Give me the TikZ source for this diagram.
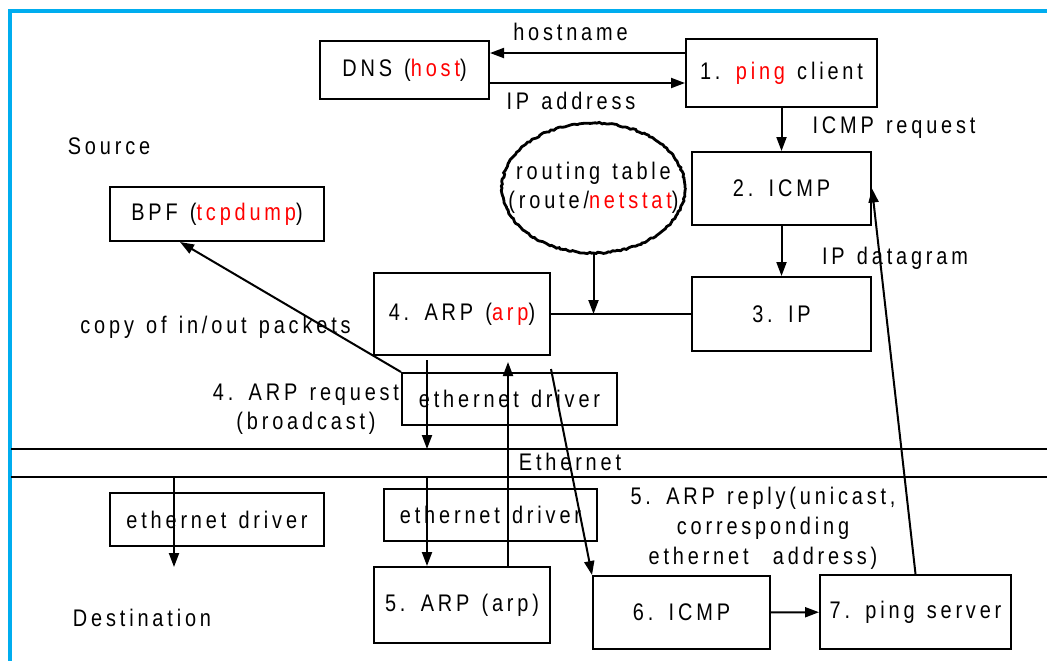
\documentclass[tikz,border=0pt]{standalone}
\usepackage{fontspec}
\newfontfamily\diagfont[FakeStretch=0.83,LetterSpace=16,WordSpace=1.3]{Liberation Sans}
\usetikzlibrary{arrows.meta,shapes.geometric,decorations.pathmorphing}
\begin{document}
\begin{tikzpicture}[x=0.5pt,y=-0.5pt,
   every node/.style={font=\diagfont\fontsize{12}{14.5}\selectfont, inner sep=0pt},
   box/.style={draw, line width=1pt},
   oval/.style={draw, ellipse, line width=1.4pt, decorate,
      decoration={random steps, segment length=1.2pt, amplitude=0.4pt}},
   flow/.style={line width=1pt, -{Triangle[length=7pt,width=5pt]}},
   wire/.style={line width=1pt}]

\useasboundingbox (0,0) rectangle (1047,661);
\draw[cyan, line width=1.8pt] (1047,11) -- (10,11) -- (10,661);

% source host
\node[box, minimum width=84.5pt, minimum height=29pt] (dns) at (404.5,70) {DNS (\textcolor{red}{host})};
\node[box, minimum width=95.5pt, minimum height=34pt] (client) at (781.5,73) {1. \textcolor{red}{ping} client};
\node[box, minimum width=89.5pt, minimum height=36.5pt] (icmp) at (781.5,188.5) {2. ICMP};
\node[box, minimum width=89.5pt, minimum height=37pt] (ip) at (781.5,314) {3. IP};
\node[box, minimum width=88pt, minimum height=41pt] (arp) at (462,314) {4. ARP (\textcolor{red}{arp})};
\node[box, minimum width=107pt, minimum height=27pt] (bpf) at (217,214) {BPF (\textcolor{red}{tcpdump})};
\node[box, minimum width=107.5pt, minimum height=26pt] (srcdrv) at (509.5,399) {ethernet driver};
\node[oval, minimum width=91.5pt, minimum height=65pt,
   label={[align=center]center:routing table\\(route/\textcolor{red}{netstat})}] (route) at (593.5,188) {};

% destination host
\node[box, minimum width=107pt, minimum height=26.5pt] (dstdrvA) at (217,519.5) {ethernet driver};
\node[box, minimum width=106.5pt, minimum height=26pt] (dstdrvB) at (490.5,515) {ethernet driver};
\node[box, minimum width=88pt, minimum height=38pt] (dstarp) at (462,605) {5. ARP (arp)};
\node[box, minimum width=88.5pt, minimum height=36.5pt] (dsticmp) at (681.5,612.5) {6. ICMP};
\node[box, minimum width=95.5pt, minimum height=37pt] (server) at (915.5,612) {7. ping server};

% labels
\node (hostname) at (570.5,32) {hostname};
\node (ipaddr) at (571,101) {IP address};
\node (icmpreq) at (894,128) {ICMP request};
\node (datagram) at (895,258) {IP datagram};
\node (source) at (109,146) {Source};
\node (copy) at (215.5,327) {copy of in/out packets};
\node[align=center] (arpreq) at (306,409.5) {4. ARP request\\(broadcast)};
\node (ether) at (570,462) {Ethernet};
\node[align=center, font=\diagfont\fontsize{12}{15}\selectfont] (arpreply) at (763,528)
   {5. ARP reply(unicast,\\corresponding\\ethernet\ \ address)};
\node (dest) at (142,618) {Destination};

% ethernet
\coordinate (ethA) at (11,449);
\coordinate (ethB) at (1047,449);
\coordinate (ethC) at (11,477);
\coordinate (ethD) at (1047,477);
\coordinate (sink) at (174,567);
\draw[wire] (ethA) -- (ethB);
\draw[wire] (ethC) -- (ethD);

% connectors
\draw[flow] ([yshift=8.5pt]dns.east -| client.west) -- ([yshift=8.5pt]dns.east);
\draw[flow] ([yshift=-6.5pt]dns.east) -- ([yshift=-6.5pt]dns.east -| client.west);
\draw[flow] (client) -- (icmp);
\draw[flow] (icmp) -- (ip);
\draw[wire] (arp.east) -- (ip.west);
\draw[flow] (route.south) -- (route.south |- arp.east);
\draw[flow] (srcdrv.north west) -- ([xshift=-18.5pt]bpf.south);
\draw[flow] ([xshift=-17.5pt,yshift=-2pt]arp.south) -- ([xshift=-17.5pt]arp.south |- ethA);
\draw[flow] ([xshift=-17.5pt]dstarp.north |- ethC) -- ([xshift=-17.5pt]dstarp.north);
\draw[flow] ([xshift=23pt]dstarp.north) -- ([xshift=23pt,yshift=-3pt]arp.south);
\draw[flow] ([yshift=-6.5pt]arp.south east) -- (dsticmp.north west);
\draw[flow] (dsticmp) -- (server);
\draw[flow] (server.north) -- (icmp.east);
\draw[flow] (sink |- ethC) -- (sink);

\end{tikzpicture}
\end{document}
